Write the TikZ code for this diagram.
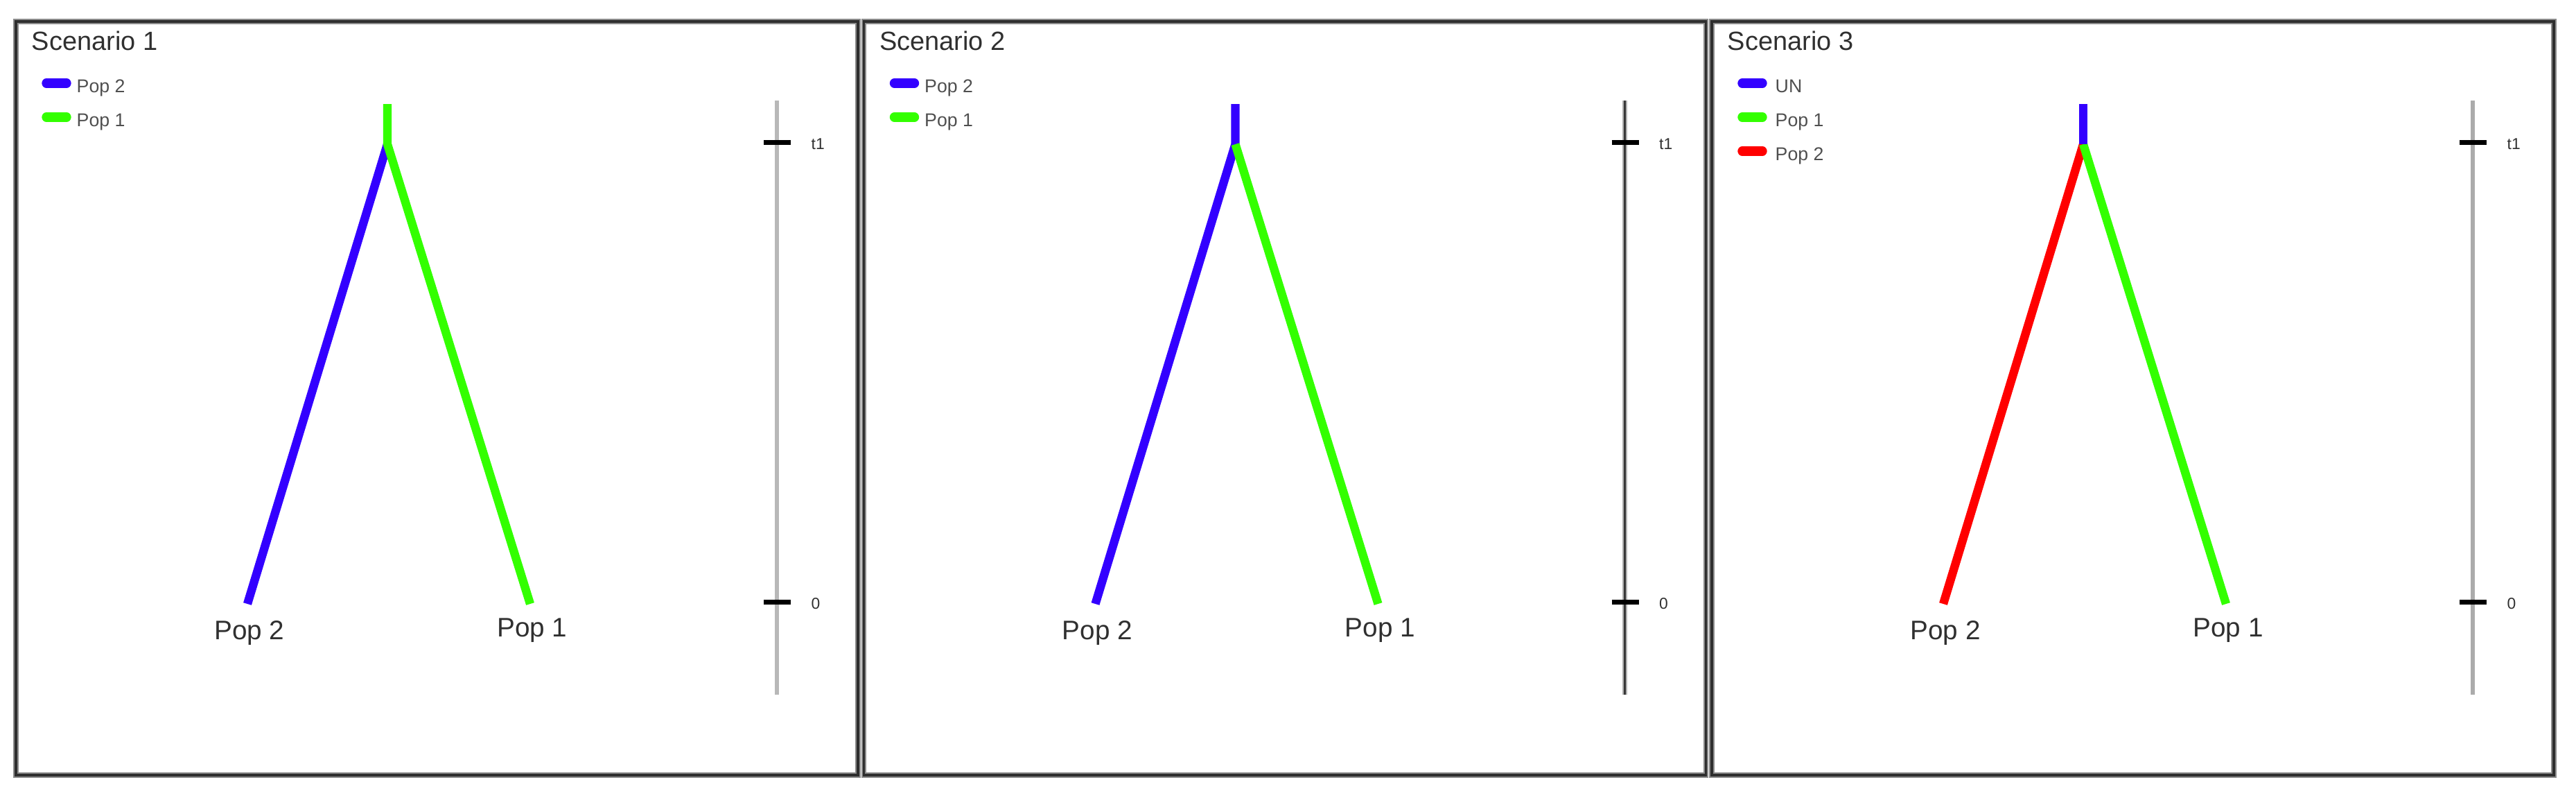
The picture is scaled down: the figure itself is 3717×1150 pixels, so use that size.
\documentclass[tikz,border=0pt]{standalone}
\usepackage{fontspec}
\setmainfont{Liberation Sans}
\definecolor{pblue}{HTML}{3300FF}
\definecolor{pgreen}{HTML}{33FF00}
\definecolor{pred}{HTML}{FF0000}
\definecolor{framecol}{HTML}{2E2E2E}
\definecolor{txtcol}{HTML}{303030}
\begin{document}
\begin{tikzpicture}[x=0.01cm,y=-0.01cm,
  panelhalo/.style={draw=black!45, line width=2.1pt},
  panel/.style={draw=framecol, line width=1.1pt},
  branch/.style={line width=3.5pt, line join=round},
  legbar/.style={line width=3.8pt, line cap=round},
  title/.style={font=\fontsize{10.8}{12}\selectfont, inner sep=0pt, anchor=base west, text=txtcol},
  legtext/.style={font=\fontsize{7.6}{9}\selectfont, inner sep=0pt, anchor=base west, text=txtcol!85},
  poplab/.style={font=\fontsize{11}{12}\selectfont, inner sep=0pt, anchor=base, text=txtcol},
  ticklab/.style={font=\fontsize{6.5}{7}\selectfont, inner sep=0pt, anchor=west, text=txtcol},
  axisline/.style={line width=1.8pt},
  tickmark/.style={line width=2pt, black}]
\useasboundingbox (0,0) rectangle (3717,1150);

% ---------- Panel 1 ----------
\begin{scope}
\draw[panelhalo] (23,31) rectangle (1238,1118);
\draw[panel] (23,31) rectangle (1238,1118);
\node[title] (titleA) at (45,72) {Scenario 1};
\coordinate (lAa1) at (67,120); \coordinate (lAa2) at (96,120);
\coordinate (lAb1) at (67,169); \coordinate (lAb2) at (96,169);
\draw[legbar,pblue] (lAa1) -- (lAa2);
\draw[legbar,pgreen] (lAb1) -- (lAb2);
\node[legtext] (legAa) at (110,133) {Pop 2};
\node[legtext] (legAb) at (110,182) {Pop 1};
\coordinate (topA) at (559,150); \coordinate (juncA) at (559,208);
\coordinate (leftA) at (357,871); \coordinate (rightA) at (765,871);
\draw[branch,pblue] (juncA) -- (leftA);
\draw[branch,pgreen] (topA) -- (juncA) -- (rightA);
\node[poplab] (popAl) at (360,922) {Pop 2};
\node[poplab] (popAr) at (768,918) {Pop 1};
\coordinate (axAt) at (1121,145); \coordinate (axAb) at (1121,1002);
\draw[axisline, color=black!28] (axAt) -- (axAb);
\coordinate (tkA1a) at (1102,205); \coordinate (tkA1b) at (1141,205);
\coordinate (tkA0a) at (1102,868); \coordinate (tkA0b) at (1141,868);
\draw[tickmark] (tkA1a) -- (tkA1b);
\draw[tickmark] (tkA0a) -- (tkA0b);
\node[ticklab] (tlA1) at (1170,208) {t1};
\node[ticklab] (tlA0) at (1170,871) {0};
\end{scope}

% ---------- Panel 2 ----------
\begin{scope}[shift={(1223.5,0)}]
\draw[panelhalo] (23,31) rectangle (1238,1118);
\draw[panel] (23,31) rectangle (1238,1118);
\node[title] (titleB) at (45,72) {Scenario 2};
\coordinate (lBa1) at (67,120); \coordinate (lBa2) at (96,120);
\coordinate (lBb1) at (67,169); \coordinate (lBb2) at (96,169);
\draw[legbar,pblue] (lBa1) -- (lBa2);
\draw[legbar,pgreen] (lBb1) -- (lBb2);
\node[legtext] (legBa) at (110,133) {Pop 2};
\node[legtext] (legBb) at (110,182) {Pop 1};
\coordinate (topB) at (559,150); \coordinate (juncB) at (559,208);
\coordinate (leftB) at (357,871); \coordinate (rightB) at (765,871);
\draw[branch,pblue] (topB) -- (juncB) -- (leftB);
\draw[branch,pgreen] (juncB) -- (rightB);
\node[poplab] (popBl) at (360,922) {Pop 2};
\node[poplab] (popBr) at (768,918) {Pop 1};
\coordinate (axBt) at (1121,145); \coordinate (axBb) at (1121,1002);
\draw[axisline, color=black!30] (axBt) -- (axBb);
\draw[line width=1pt, color=black!78] (axBt) -- (axBb);
\coordinate (tkB1a) at (1102,205); \coordinate (tkB1b) at (1141,205);
\coordinate (tkB0a) at (1102,868); \coordinate (tkB0b) at (1141,868);
\draw[tickmark] (tkB1a) -- (tkB1b);
\draw[tickmark] (tkB0a) -- (tkB0b);
\node[ticklab] (tlB1) at (1170,208) {t1};
\node[ticklab] (tlB0) at (1170,871) {0};
\end{scope}

% ---------- Panel 3 ----------
\begin{scope}[shift={(2447,0)}]
\draw[panelhalo] (23,31) rectangle (1238,1118);
\draw[panel] (23,31) rectangle (1238,1118);
\node[title] (titleC) at (45,72) {Scenario 3};
\coordinate (lCa1) at (67,120); \coordinate (lCa2) at (96,120);
\coordinate (lCb1) at (67,169); \coordinate (lCb2) at (96,169);
\coordinate (lCc1) at (67,218); \coordinate (lCc2) at (96,218);
\draw[legbar,pblue] (lCa1) -- (lCa2);
\draw[legbar,pgreen] (lCb1) -- (lCb2);
\draw[legbar,pred] (lCc1) -- (lCc2);
\node[legtext] (legCa) at (114,133) {UN};
\node[legtext] (legCb) at (114,182) {Pop 1};
\node[legtext] (legCc) at (114,231) {Pop 2};
\coordinate (topC) at (559,150); \coordinate (juncC) at (559,208);
\coordinate (leftC) at (357,871); \coordinate (rightC) at (765,871);
\draw[branch,pred] (juncC) -- (leftC);
\draw[branch,pgreen] (juncC) -- (rightC);
\draw[branch,pblue] (topC) -- (juncC);
\node[poplab] (popCl) at (360,922) {Pop 2};
\node[poplab] (popCr) at (768,918) {Pop 1};
\coordinate (axCt) at (1121,145); \coordinate (axCb) at (1121,1002);
\draw[axisline, color=black!33] (axCt) -- (axCb);
\coordinate (tkC1a) at (1102,205); \coordinate (tkC1b) at (1141,205);
\coordinate (tkC0a) at (1102,868); \coordinate (tkC0b) at (1141,868);
\draw[tickmark] (tkC1a) -- (tkC1b);
\draw[tickmark] (tkC0a) -- (tkC0b);
\node[ticklab] (tlC1) at (1170,208) {t1};
\node[ticklab] (tlC0) at (1170,871) {0};
\end{scope}
\end{tikzpicture}
\end{document}
